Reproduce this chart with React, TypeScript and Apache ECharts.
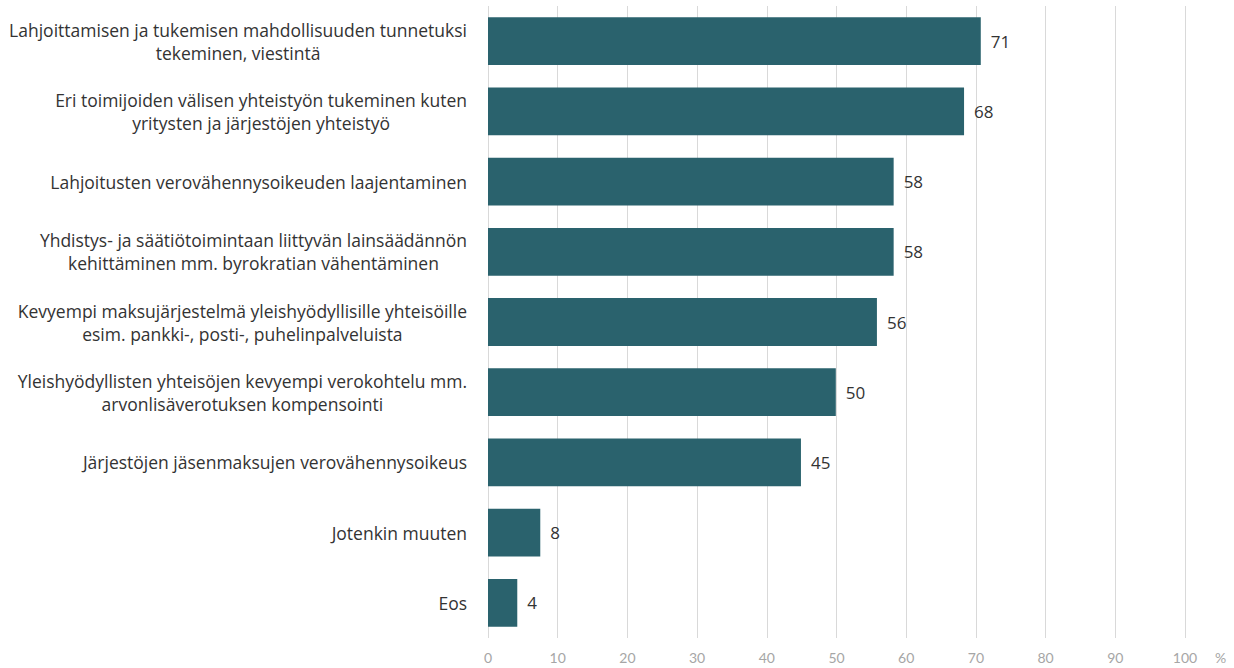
import React, { useEffect, useRef } from "react";
import * as echarts from "echarts";

const categories: string[] = [
  "Lahjoittamisen ja tukemisen mahdollisuuden tunnetuksi\ntekeminen, viestintä",
  "Eri toimijoiden välisen yhteistyön tukeminen kuten\nyritysten ja järjestöjen yhteistyö",
  "Lahjoitusten verovähennysoikeuden laajentaminen",
  "Yhdistys- ja säätiötoimintaan liittyvän lainsäädännön\nkehittäminen mm. byrokratian vähentäminen",
  "Kevyempi maksujärjestelmä yleishyödyllisille yhteisöille\nesim. pankki-, posti-, puhelinpalveluista",
  "Yleishyödyllisten yhteisöjen kevyempi verokohtelu mm.\narvonlisäverotuksen kompensointi",
  "Järjestöjen jäsenmaksujen verovähennysoikeus",
  "Jotenkin muuten",
  "Eos",
];

const values: number[] = [70.7, 68.3, 58.2, 58.2, 55.8, 49.9, 44.9, 7.5, 4.2];

const FONT = "'Open Sans', Lato, sans-serif";
const AXFONT = "Lato, 'Open Sans', sans-serif";

export default function App() {
  const ref = useRef<HTMLDivElement>(null);
  useEffect(() => {
    if (!ref.current) return;
    const chart = echarts.init(ref.current, undefined, { renderer: "svg" });
    chart.setOption({
      animation: false,
      textStyle: { fontFamily: FONT },
      grid: { left: 488, right: 49, top: 6, bottom: 30 },
      xAxis: {
        type: "value",
        min: 0,
        max: 100,
        interval: 10,
        axisLine: { show: false },
        axisTick: { show: false },
        axisLabel: { color: "#a6a6a6", fontSize: 14, margin: 12, fontFamily: AXFONT },
        splitLine: { show: true, lineStyle: { color: "#d9d9d9", width: 1 } },
        name: "%",
        nameLocation: "end",
        nameGap: 30,
        nameTextStyle: {
          color: "#a6a6a6",
          fontSize: 14,
          fontFamily: AXFONT,
          verticalAlign: "top",
          padding: [12, 0, 0, 0],
        },
      },
      yAxis: {
        type: "category",
        inverse: true,
        data: categories,
        axisLine: { show: false },
        axisTick: { show: false },
        axisLabel: {
          margin: 21,
          color: "#333333",
          fontSize: 17.5,
          lineHeight: 23,
          fontFamily: FONT,
          formatter: (v: string) =>
            v
              .split("\n")
              .map((l) => `{c|${l}}`)
              .join("\n"),
          rich: {
            c: {
              align: "center",
              fontSize: 17.5,
              lineHeight: 23,
              color: "#333333",
              fontFamily: FONT,
            },
          },
        },
      },
      series: [
        {
          type: "bar",
          data: values,
          barWidth: "68%",
          itemStyle: { color: "#2a626d" },
          label: {
            show: true,
            position: "right",
            distance: 10,
            color: "#333333",
            fontSize: 17,
            fontFamily: FONT,
            formatter: (p: any) => String(Math.round(p.value)),
          },
        },
      ],
    });
    return () => chart.dispose();
  }, []);
  return (
    <div
      ref={ref}
      style={{ position: "absolute", left: 0, top: 0, width: 1234, height: 668 }}
    />
  );
}
